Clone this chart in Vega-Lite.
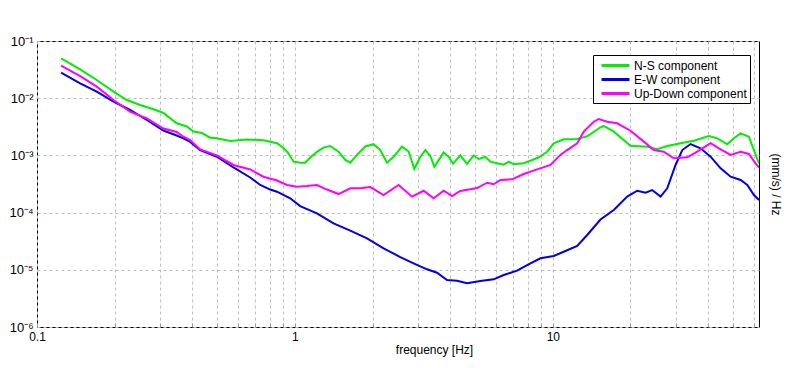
{
  "$schema": "https://vega.github.io/schema/vega-lite/v6.json",
  "width": 722,
  "height": 286,
  "autosize": {"type": "none"},
  "padding": {"left": 37, "top": 41, "right": 37, "bottom": 43},
  "background": "white",
  "config": {
    "view": {"stroke": "black", "strokeWidth": 1},
    "font": "Liberation Sans",
    "axis": {
      "domain": false,
      "gridColor": "#bdbdbd",
      "gridDash": [3, 3],
      "gridWidth": 1,
      "labelColor": "black",
      "labelFont": "Liberation Sans",
      "titleFont": "Liberation Sans",
      "titleColor": "black",
      "titleFontWeight": "normal"
    }
  },
  "datasets": {
    "ns": [
      {"f":0.124,"v":0.0498},{"f":0.147,"v":0.032},{"f":0.1705,"v":0.0208},{"f":0.198,"v":0.013},{"f":0.223,"v":0.0093},{"f":0.251,"v":0.00761},{"f":0.283,"v":0.0064},{"f":0.309,"v":0.00551},{"f":0.348,"v":0.00364},{"f":0.381,"v":0.0032},{"f":0.404,"v":0.00262},{"f":0.436,"v":0.00246},{"f":0.469,"v":0.00204},{"f":0.498,"v":0.00199},{"f":0.561,"v":0.00179},{"f":0.651,"v":0.0019},{"f":0.755,"v":0.00184},{"f":0.852,"v":0.00163},{"f":0.903,"v":0.00135},{"f":0.942,"v":0.0011},{"f":0.988,"v":0.000776},{"f":1.048,"v":0.000746},{"f":1.096,"v":0.000746},{"f":1.147,"v":0.000919},{"f":1.217,"v":0.00115},{"f":1.291,"v":0.00137},{"f":1.371,"v":0.00146},{"f":1.476,"v":0.00116},{"f":1.568,"v":0.000831},{"f":1.639,"v":0.000746},{"f":1.74,"v":0.00102},{"f":1.874,"v":0.00143},{"f":2.018,"v":0.00157},{"f":2.143,"v":0.00124},{"f":2.275,"v":0.000746},{"f":2.413,"v":0.000949},{"f":2.602,"v":0.00142},{"f":2.76,"v":0.00117},{"f":2.904,"v":0.000583},{"f":3.063,"v":0.000938},{"f":3.203,"v":0.00124},{"f":3.35,"v":0.000976},{"f":3.472,"v":0.000634},{"f":3.773,"v":0.00112},{"f":3.945,"v":0.000949},{"f":4.104,"v":0.000716},{"f":4.379,"v":0.001},{"f":4.651,"v":0.000708},{"f":4.933,"v":0.000996},{"f":5.158,"v":0.000866},{"f":5.476,"v":0.000938},{"f":5.726,"v":0.000776},{"f":6.08,"v":0.000728},{"f":6.45,"v":0.000688},{"f":6.744,"v":0.000776},{"f":7.052,"v":0.000699},{"f":7.711,"v":0.000728},{"f":8.187,"v":0.000808},{"f":8.818,"v":0.000927},{"f":9.504,"v":0.00116},{"f":10.08,"v":0.00163},{"f":11.02,"v":0.00191},{"f":12.43,"v":0.00194},{"f":13.59,"v":0.00216},{"f":15.3,"v":0.0031},{"f":15.76,"v":0.00327},{"f":17.23,"v":0.0026},{"f":20.0,"v":0.00148},{"f":23.23,"v":0.00142},{"f":25.39,"v":0.00128},{"f":27.77,"v":0.00146},{"f":31.27,"v":0.00163},{"f":35.23,"v":0.00181},{"f":40.27,"v":0.00218},{"f":43.42,"v":0.00199},{"f":47.48,"v":0.00156},{"f":50.35,"v":0.00199},{"f":53.46,"v":0.00243},{"f":57.57,"v":0.00212},{"f":60.2,"v":0.00124},{"f":62.95,"v":0.000728}
    ],
    "ew": [
      {"f":0.124,"v":0.0279},{"f":0.147,"v":0.0182},{"f":0.1705,"v":0.013},{"f":0.198,"v":0.00869},{"f":0.2295,"v":0.00622},{"f":0.2666,"v":0.00416},{"f":0.309,"v":0.00272},{"f":0.348,"v":0.00223},{"f":0.3695,"v":0.00199},{"f":0.3925,"v":0.00172},{"f":0.4291,"v":0.00124},{"f":0.498,"v":0.000949},{"f":0.5778,"v":0.000615},{"f":0.6707,"v":0.000411},{"f":0.7334,"v":0.000304},{"f":0.8021,"v":0.000253},{"f":0.852,"v":0.000232},{"f":0.9589,"v":0.000178},{"f":1.048,"v":0.00013},{"f":1.217,"v":0.0000972},{"f":1.412,"v":0.000065},{"f":1.639,"v":0.0000483},{"f":1.903,"v":0.0000355},{"f":2.207,"v":0.0000238},{"f":2.562,"v":0.0000167},{"f":2.885,"v":0.000013},{"f":3.252,"v":0.0000102},{"f":3.556,"v":0.0000089},{"f":3.889,"v":0.00000663},{"f":4.253,"v":0.00000645},{"f":4.651,"v":0.00000581},{"f":5.237,"v":0.00000637},{"f":5.897,"v":0.00000682},{"f":6.45,"v":0.00000811},{"f":7.269,"v":0.00000965},{"f":7.948,"v":0.0000121},{"f":8.953,"v":0.0000159},{"f":10.08,"v":0.0000174},{"f":11.02,"v":0.0000207},{"f":12.43,"v":0.0000261},{"f":13.59,"v":0.0000406},{"f":15.3,"v":0.0000757},{"f":17.23,"v":0.000111},{"f":19.42,"v":0.00019},{"f":21.24,"v":0.000241},{"f":22.88,"v":0.000223},{"f":24.28,"v":0.000248},{"f":26.16,"v":0.00019},{"f":27.77,"v":0.000266},{"f":29.91,"v":0.00068},{"f":31.76,"v":0.00124},{"f":34.2,"v":0.00158},{"f":37.39,"v":0.00133},{"f":40.89,"v":0.000949},{"f":44.72,"v":0.000595},{"f":48.9,"v":0.000424},{"f":53.46,"v":0.000372},{"f":56.75,"v":0.000304},{"f":60.2,"v":0.000203},{"f":63,"v":0.000166}
    ],
    "ud": [
      {"f":0.124,"v":0.037},{"f":0.147,"v":0.0244},{"f":0.1705,"v":0.0159},{"f":0.198,"v":0.0093},{"f":0.2295,"v":0.00581},{"f":0.2666,"v":0.00442},{"f":0.309,"v":0.00295},{"f":0.348,"v":0.00257},{"f":0.3695,"v":0.00212},{"f":0.3925,"v":0.00186},{"f":0.4291,"v":0.00127},{"f":0.498,"v":0.000996},{"f":0.5778,"v":0.00068},{"f":0.6707,"v":0.000567},{"f":0.755,"v":0.000424},{"f":0.852,"v":0.000364},{"f":0.931,"v":0.000304},{"f":1.018,"v":0.000284},{"f":1.113,"v":0.000292},{"f":1.217,"v":0.000304},{"f":1.331,"v":0.000253},{"f":1.476,"v":0.000211},{"f":1.639,"v":0.000266},{"f":1.792,"v":0.000266},{"f":1.96,"v":0.00028},{"f":2.207,"v":0.000203},{"f":2.523,"v":0.000304},{"f":2.844,"v":0.00019},{"f":3.155,"v":0.000241},{"f":3.45,"v":0.000178},{"f":3.773,"v":0.000241},{"f":4.067,"v":0.000195},{"f":4.379,"v":0.000239},{"f":4.789,"v":0.000255},{"f":5.086,"v":0.000269},{"f":5.562,"v":0.000333},{"f":5.897,"v":0.000313},{"f":6.263,"v":0.000372},{"f":6.951,"v":0.000382},{"f":7.711,"v":0.000473},{"f":8.693,"v":0.000571},{"f":9.788,"v":0.00068},{"f":10.7,"v":0.00102},{"f":11.36,"v":0.00124},{"f":12.43,"v":0.00163},{"f":13.18,"v":0.0026},{"f":14.41,"v":0.00388},{"f":15.07,"v":0.00433},{"f":16.24,"v":0.00388},{"f":17.76,"v":0.00364},{"f":20.0,"v":0.0027},{"f":22.53,"v":0.00174},{"f":24.64,"v":0.00124},{"f":26.93,"v":0.00116},{"f":29.46,"v":0.00089},{"f":33.2,"v":0.000927},{"f":36.31,"v":0.00116},{"f":40.89,"v":0.00163},{"f":44.72,"v":0.00128},{"f":48.9,"v":0.00102},{"f":53.46,"v":0.00116},{"f":57.57,"v":0.00106},{"f":61.12,"v":0.000728},{"f":63,"v":0.00061}
    ]
  },
  "layer": [
    {
      "data": {"name": "ns"},
      "transform": [{"calculate": "'N-S component'", "as": "c"}],
      "mark": {"type": "line", "strokeWidth": 2, "clip": true},
      "encoding": {
        "x": {"field": "f", "type": "quantitative"},
        "y": {"field": "v", "type": "quantitative"},
        "color": {"field": "c", "type": "nominal"}
      }
    },
    {
      "data": {"name": "ew"},
      "transform": [{"calculate": "'E-W component'", "as": "c"}],
      "mark": {"type": "line", "strokeWidth": 2, "clip": true},
      "encoding": {
        "x": {"field": "f", "type": "quantitative"},
        "y": {"field": "v", "type": "quantitative"},
        "color": {"field": "c", "type": "nominal"}
      }
    },
    {
      "data": {"name": "ud"},
      "transform": [{"calculate": "'Up-Down component'", "as": "c"}],
      "mark": {"type": "line", "strokeWidth": 2, "clip": true},
      "encoding": {
        "x": {
          "field": "f", "type": "quantitative",
          "scale": {"type": "log", "domain": [0.1, 63], "nice": false},
          "axis": {
            "values": [0.1,0.2,0.3,0.4,0.5,0.6,0.7,0.8,0.9,1,2,3,4,5,6,7,8,9,10,20,30,40,50,60],
            "format": "~g",
            "labelExpr": "(datum.value == 0.1 || datum.value == 1 || datum.value == 10) ? datum.label : ''",
            "labelOverlap": false,
            "labelFlush": false,
            "labelFontSize": 12,
            "labelPadding": 8,
            "tickSize": -4,
            "tickColor": "#999999",
            "title": "frequency [Hz]",
            "titleFontSize": 12,
            "titleX": 397,
            "titleY": 22,
            "titleAlign": "center",
            "titleBaseline": "middle"
          }
        },
        "y": {
          "field": "v", "type": "quantitative",
          "scale": {"type": "log", "domain": [0.000001, 0.1], "nice": false},
          "axis": {
            "values": [0.000001, 0.00001, 0.0001, 0.001, 0.01, 0.1],
            "labelExpr": "['10⁰','10⁻¹','10⁻²','10⁻³','10⁻⁴','10⁻⁵','10⁻⁶'][round(-log(datum.value)/LN10)]",
            "labelFontSize": 13,
            "labelPadding": 4,
            "ticks": false,
            "labelOverlap": false,
            "title": "(mm/s)  /  Hz",
            "titleFontSize": 12,
            "titleAngle": 90,
            "titleX": 738,
            "titleY": 143,
            "titleAlign": "center",
            "titleBaseline": "middle"
          }
        },
        "color": {
          "field": "c", "type": "nominal",
          "scale": {
            "domain": ["N-S component", "E-W component", "Up-Down component"],
            "range": ["#00ee00", "#0000e6", "#ff00ff"]
          },
          "legend": {
            "title": null,
            "orient": "none",
            "legendX": 556,
            "legendY": 14,
            "padding": 3,
            "symbolOffset": 12,
            "strokeColor": "black",
            "fillColor": "white",
            "symbolType": "M-2.33,0H2.33",
            "symbolSize": 144,
            "symbolStrokeWidth": 3,
            "labelFontSize": 12,
            "labelColor": "black",
            "labelOffset": 11,
            "rowPadding": 0
          }
        }
      }
    }
  ]
}
